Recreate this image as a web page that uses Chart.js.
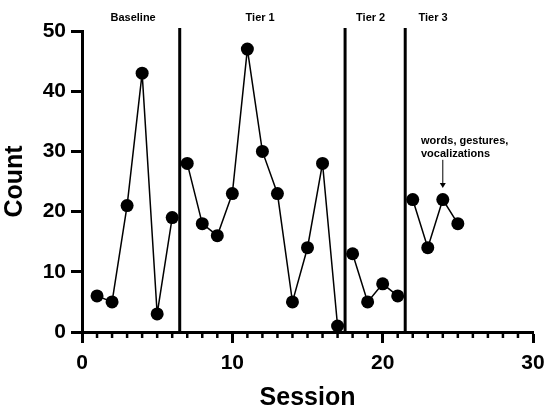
<!DOCTYPE html>
<html>
<head>
<meta charset="utf-8">
<script src="https://cdn.jsdelivr.net/npm/chart.js@4/dist/chart.umd.min.js"></script>
<style>
  html, body { margin: 0; padding: 0; background: #fff; }
  #wrap { width: 550px; height: 413px; position: relative; }
</style>
</head>
<body>
<div id="wrap"><canvas id="chart"></canvas></div>
<script>
// Session data per phase
const baselineSessions = [1, 2, 3, 4, 5, 6];
const baselineCounts = [6, 5, 21, 43, 3, 19];
const tier1Sessions = [7, 8, 9, 10, 11, 12, 13, 14, 15, 16, 17];
const tier1Counts = [28, 18, 16, 23, 47, 30, 23, 5, 14, 28, 1];
const tier2Sessions = [18, 19, 20, 21];
const tier2Counts = [13, 5, 8, 6];
const tier3Sessions = [22, 23, 24, 25];
const tier3Counts = [22, 14, 22, 18];

// phase change lines and labels
const phaseChanges = [6.5, 17.5, 21.5];
const phaseNames = ['Baseline', 'Tier 1', 'Tier 2', 'Tier 3'];
const phaseLabelX = [3.4, 11.85, 19.2, 23.35];

const xTicks = [0, 10, 20, 30];
const yTicks = [0, 10, 20, 30, 40, 50];

const FONT = '"Liberation Sans", Arial, Helvetica, sans-serif';

function toPoints(xs, ys) {
    return xs.map((x, i) => ({ x: x, y: ys[i] }));
}

function seriesDataset(xs, ys) {
    return {
        data: toPoints(xs, ys),
        borderColor: '#000',
        backgroundColor: '#000',
        borderWidth: 1.5,
        pointRadius: 6.5,
        pointHoverRadius: 6.5,
        pointBorderWidth: 0,
        tension: 0
    };
}

const phaseLineDatasets = phaseChanges.map(x => ({
    data: [{ x: x, y: 0 }, { x: x, y: 50.5 }],
    borderColor: '#000',
    borderWidth: 3,
    pointRadius: 0,
    clip: false
}));

// minor ticks on x axis, labels and arrow
const extras = {
    id: 'extras',
    afterDraw(chart) {
        const ctx = chart.ctx;
        const xs = chart.scales.x;
        const ys = chart.scales.y;
        const bottom = chart.chartArea.bottom;
        ctx.save();
        ctx.strokeStyle = '#000';
        ctx.lineWidth = 2.5;
        for (let v = 1; v < 30; v++) {
            if (v % 10 === 0) continue;
            const px = xs.getPixelForValue(v);
            ctx.beginPath();
            ctx.moveTo(px, bottom);
            ctx.lineTo(px, bottom + 6);
            ctx.stroke();
        }

        ctx.fillStyle = '#000';
        ctx.font = 'bold 11px ' + FONT;
        ctx.textAlign = 'center';
        ctx.textBaseline = 'middle';
        phaseNames.forEach((name, i) => {
            ctx.fillText(name, xs.getPixelForValue(phaseLabelX[i]), ys.getPixelForValue(52.2));
        });

        ctx.textAlign = 'left';
        ctx.fillText('words, gestures,', xs.getPixelForValue(22.55), ys.getPixelForValue(31.7));
        ctx.fillText('vocalizations', xs.getPixelForValue(22.55), ys.getPixelForValue(29.6));

        const ax = xs.getPixelForValue(24);
        const y1 = ys.getPixelForValue(28.6);
        const y2 = ys.getPixelForValue(23.9);
        ctx.lineWidth = 1;
        ctx.beginPath();
        ctx.moveTo(ax, y1);
        ctx.lineTo(ax, y2 - 4);
        ctx.stroke();
        ctx.beginPath();
        ctx.moveTo(ax - 3, y2 - 5);
        ctx.lineTo(ax + 3, y2 - 5);
        ctx.lineTo(ax, y2);
        ctx.closePath();
        ctx.fill();
        ctx.restore();
    }
};

new Chart(document.getElementById('chart'), {
    type: 'line',
    data: {
        datasets: [
            seriesDataset(baselineSessions, baselineCounts),
            seriesDataset(tier1Sessions, tier1Counts),
            seriesDataset(tier2Sessions, tier2Counts),
            seriesDataset(tier3Sessions, tier3Counts),
            ...phaseLineDatasets
        ]
    },
    options: {
        responsive: true,
        maintainAspectRatio: false,
        animation: false,
        layout: { padding: { top: 31, right: 17, left: 0, bottom: 0 } },
        plugins: {
            legend: { display: false },
            tooltip: { enabled: false }
        },
        scales: {
            x: {
                type: 'linear',
                min: 0,
                max: 30,
                afterBuildTicks: s => { s.ticks = xTicks.map(v => ({ value: v })); },
                afterFit: s => { s.height = 81; s.paddingRight = 0; s.paddingLeft = 0; },
                ticks: { color: '#000', font: { family: FONT, size: 21, weight: 'bold' }, padding: 8 },
                border: { display: true, color: '#000', width: 3 },
                grid: { drawOnChartArea: false, color: '#000', tickLength: 11, tickWidth: 3, tickColor: '#000' },
                title: { display: true, text: 'Session', color: '#000', font: { family: FONT, size: 25, weight: 'bold' }, padding: { top: 3, bottom: 0 } }
            },
            y: {
                type: 'linear',
                min: 0,
                max: 50,
                afterBuildTicks: s => { s.ticks = yTicks.map(v => ({ value: v })); },
                afterFit: s => { s.width = 82; s.paddingTop = 0; s.paddingBottom = 0; },
                ticks: { color: '#000', font: { family: FONT, size: 21, weight: 'bold' }, padding: 5 },
                border: { display: true, color: '#000', width: 3 },
                grid: { drawOnChartArea: false, color: '#000', tickLength: 11, tickWidth: 3, tickColor: '#000' },
                title: { display: true, text: 'Count', color: '#000', font: { family: FONT, size: 25, weight: 'bold' }, padding: { top: 0, bottom: 4 } }
            }
        }
    },
    plugins: [extras]
});
</script>
</body>
</html>
